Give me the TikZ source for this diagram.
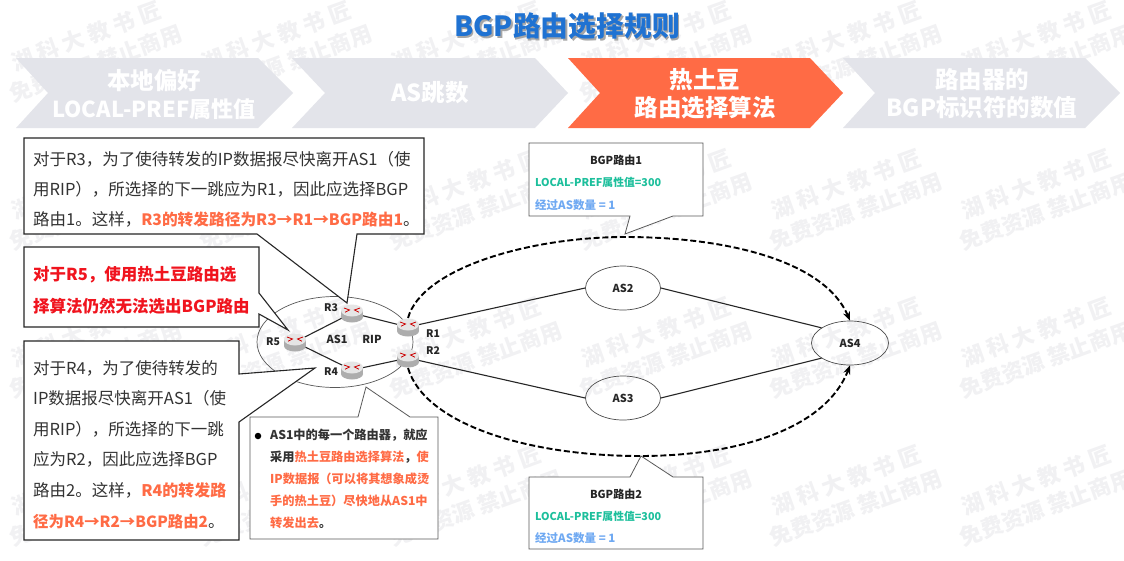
\documentclass[tikz,border=0pt]{standalone}
\usepackage{fontspec}
\setmainfont{Noto Sans CJK SC}
\usetikzlibrary{arrows.meta,shapes.geometric}
\definecolor{chev}{HTML}{E3E4EA}
\definecolor{hot}{HTML}{FF6B45}
\definecolor{titleblue}{HTML}{1F72D2}
\definecolor{wm}{HTML}{F1F1F3}
\definecolor{ogreen}{HTML}{1DBF9C}
\definecolor{oblue}{HTML}{6FA9F2}
\definecolor{redtxt}{HTML}{F0141E}
\newcommand{\hotbf}[2]{\textcolor{hot}{\fontsize{#1}{30}\selectfont\bfseries #2}}
\tikzset{
  chevron/.style={fill=chev,draw=none},
  chevtext/.style={text=white,font=\fontsize{23.5}{28}\selectfont\bfseries,align=center},
  callout/.style={draw=black!85,line width=1.1pt,fill=white,line join=miter},
  thincall/.style={draw=black!65,line width=0.8pt,fill=white},
  bodytext/.style={anchor=north west,align=left,inner sep=0pt,text=black!80,font=\fontsize{16.5}{30}\selectfont},
  astext/.style={font=\fontsize{11}{13}\selectfont\bfseries,text=black!85,inner sep=0pt},
  rlabel/.style={font=\fontsize{10.5}{12}\selectfont\bfseries,text=black!85,inner sep=0pt},
  asnode/.style={ellipse,draw=black!70,line width=0.7pt,inner sep=0pt,font=\fontsize{11}{13}\selectfont\bfseries,text=black!85},
  link/.style={draw=black!85,line width=1.1pt},
  dashlink/.style={draw=black,line width=1.9pt,dash pattern=on 6pt off 2.8pt,-{Stealth[length=9pt,width=7pt]}},
  wmtext/.style={text=wm,rotate=20,align=center,inner sep=0pt,font=\fontsize{22}{30}\selectfont\bfseries},
  pics/router/.style={code={
    \fill[black!32] (0,4) ellipse[x radius=11,y radius=5.5];
    \fill[black!32] (-11,-2.5) rectangle (11,4);
    \fill[black!10] (0,-2.5) ellipse[x radius=11,y radius=6];
    \draw[red!80!black,line width=0.8pt] (-8,-5) -- (-2.5,-3) -- (-7,-0.8) (8,-5) -- (2.5,-3) -- (7,-0.8);
  }}
}
\begin{document}
\begin{tikzpicture}[x=1pt,y=-1pt]
\useasboundingbox (0,0) rectangle (1124,560);
\fill[white] (0,0) rectangle (1124,560);
% watermark
\foreach \i in {0,...,5}{
  \foreach \j in {0,...,3}{
    \node[wmtext] (wm-\i-\j) at ({91+190*\i},{50+148*\j}) {湖 科 大 教 书 匠\\[-1pt]免费资源 禁止商用};
  }
}
% chevrons
\fill[chevron] (16,58) -- (258,58) -- (293,93) -- (258,128) -- (16,128) -- (48,93) -- cycle;
\fill[chevron] (292,58) -- (535,58) -- (568,93) -- (535,128) -- (292,128) -- (325,93) -- cycle;
\fill[hot] (568,58) -- (810,58) -- (843,93) -- (810,128) -- (568,128) -- (600,93) -- cycle;
\fill[chevron] (843,58) -- (1085,58) -- (1120,93) -- (1085,128) -- (843,128) -- (875,93) -- cycle;
\node[chevtext] (c1) at (154,94) {本地偏好\\{\fontsize{22}{28}\selectfont LOCAL-PREF属性值}};
\node[chevtext] (c2) at (430,93) {AS跳数};
\node[chevtext] (c3) at (705,94) {热土豆\\路由选择算法};
\node[chevtext] (c4) at (982,94) {路由器的\\BGP标识符的数值};
% title
\node[font=\fontsize{27.8}{32}\selectfont\bfseries,text=titleblue,inner sep=0pt] (title) at (567,27)
  {\rlap{\kern1.6pt\raisebox{-1.6pt}{\textcolor{black!35}{BGP路由选择规则}}}BGP路由选择规则};
% AS1 cloud
\node[ellipse,draw=black!65,line width=0.7pt,minimum width=156pt,minimum height=91pt,inner sep=0pt] (as1) at (335,342) {};
% AS nodes
\node[asnode,minimum width=75pt,minimum height=44pt] (AS2) at (623,288) {AS2};
\node[asnode,minimum width=75pt,minimum height=44pt] (AS3) at (623,398) {AS3};
\node[asnode,minimum width=77pt,minimum height=44pt] (AS4) at (850,343) {AS4};
% router positions
\coordinate (R3) at (352,313);
\coordinate (R1) at (408,327);
\coordinate (R2) at (408,358);
\coordinate (R5) at (295,342);
\coordinate (R4) at (352,370);
\coordinate (dashtop) at (625,237);
\coordinate (dashbot) at (640,456);
% links
\draw[link] (R5) -- (R3);
\draw[link] (R3) -- (R1);
\draw[link] (R5) -- (R4);
\draw[link] (R4) -- (R2);
\draw[link] (R1) -- (AS2.west);
\draw[link] (R2) -- (AS3.west);
\draw[link] (AS2.east) -- (AS4.152);
\draw[link] (AS3.east) -- (AS4.208);
% dashed
\draw[dashlink] (R1) ++(0,-9) .. controls (422,268) and (530,237) .. (dashtop) .. controls (730,237) and (825,262) .. (AS4.north);
\draw[dashlink] (R2) ++(0,10) .. controls (425,425) and (530,456) .. (dashbot) .. controls (735,456) and (825,430) .. (AS4.south);
% callouts
\draw[callout] (24,138) -- (424,138) -- (424,234) -- (357,234) -- (347,303) -- (257,234) -- (24,234) -- cycle;
\draw[callout] (24,247) -- (259,247) -- (259,293) -- (288,330) -- (259,314) -- (259,327) -- (24,327) -- cycle;
\draw[callout] (24,341) -- (239,341) -- (239,374) -- (315,368) -- (239,422) -- (239,540) -- (24,540) -- cycle;
\draw[thincall] (250,417) -- (358,417) -- (366,387) -- (410,417) -- (438,417) -- (438,539) -- (250,539) -- cycle;
\draw[thincall] (529,143) -- (703,143) -- (703,216) -- (673,216) -- (625,234) -- (630,216) -- (529,216) -- cycle;
\draw[thincall] (529,477) -- (630,477) -- (641,456) -- (673,477) -- (703,477) -- (703,549) -- (529,549) -- cycle;
% routers
\foreach \r in {R3,R1,R2,R5,R4}{ \pic at (\r) {router}; }
\node[rlabel] (l3) at (331,308) {R3};
\node[rlabel] (l1) at (433,334) {R1};
\node[rlabel] (l2) at (433,351) {R2};
\node[rlabel] (l5) at (273,342) {R5};
\node[rlabel] (l4) at (331,372) {R4};
\node[astext] (las1) at (337,339) {AS1};
\node[astext] (lrip) at (372,339) {RIP};
% callout texts
\node[bodytext] (t3) at (33,151) {对于R3，为了使待转发的IP数据报尽快离开AS1（使\\用RIP），所选择的下一跳应为R1，因此应选择BGP\\路由1。这样，\hotbf{15.7}{R3的转发路径为R3→R1→BGP路由1}。};
\node[bodytext,font=\fontsize{16.5}{32}\selectfont\bfseries,text=redtxt] (t5) at (33,266) {对于R5，使用热土豆路由选\\择算法仍然无法选出BGP路由};
\node[bodytext,font=\fontsize{16.5}{30.6}\selectfont] (t4) at (33,360) {对于R4，为了使待转发的\\IP数据报尽快离开AS1（使\\用RIP），所选择的下一跳\\应为R2，因此应选择BGP\\路由2。这样，\hotbf{16}{R4的转发路}\\\hotbf{15.4}{径为R4→R2→BGP路由2}。};
\node[circle,fill=black,minimum size=6.5pt,inner sep=0pt] (bullet) at (258,436) {};
\node[bodytext,font=\fontsize{12.2}{22}\selectfont\bfseries] (tn) at (270,429) {AS1中的每一个路由器，就应\\采用\textcolor{hot}{热土豆路由选择算法}，\textcolor{hot}{使}\\\textcolor{hot}{IP数据报（可以将其想象成烫}\\\textcolor{hot}{手的热土豆）尽快地从AS1中}\\\textcolor{hot}{转发出去}。};
\node[font=\fontsize{11}{12}\selectfont\bfseries,text=black!85,inner sep=0pt] (b1t) at (616,160) {BGP路由1};
\node[anchor=west,font=\fontsize{10.8}{12}\selectfont\bfseries,text=ogreen,inner sep=0pt] (b1g) at (535,182) {LOCAL-PREF属性值=300};
\node[anchor=west,font=\fontsize{11.5}{12}\selectfont\bfseries,text=oblue,inner sep=0pt] (b1b) at (535,205) {经过AS数量 = 1};
\node[font=\fontsize{11}{12}\selectfont\bfseries,text=black!85,inner sep=0pt] (b2t) at (616,494) {BGP路由2};
\node[anchor=west,font=\fontsize{10.8}{12}\selectfont\bfseries,text=ogreen,inner sep=0pt] (b2g) at (535,516) {LOCAL-PREF属性值=300};
\node[anchor=west,font=\fontsize{11.5}{12}\selectfont\bfseries,text=oblue,inner sep=0pt] (b2b) at (535,538) {经过AS数量 = 1};
\end{tikzpicture}
\end{document}
